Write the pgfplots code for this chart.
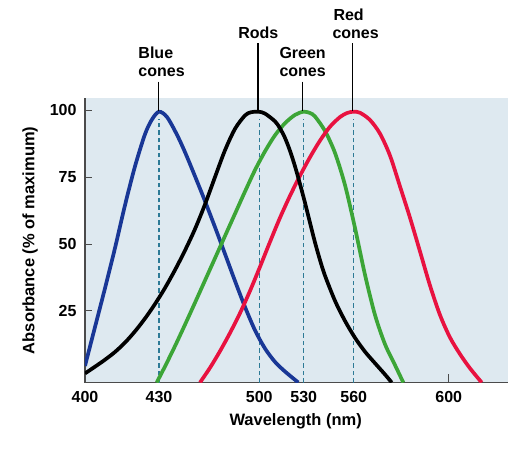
\documentclass[border=0pt]{standalone}
\usepackage{pgfplots}
\pgfplotsset{compat=1.18}
\usepackage{fontspec}
\setmainfont{Liberation Sans}
\definecolor{bgc}{RGB}{222,233,240}
\definecolor{cblue}{RGB}{25,55,150}
\definecolor{cgreen}{RGB}{60,165,55}
\definecolor{cred}{RGB}{232,18,64}
\definecolor{cdash}{RGB}{45,122,150}
\definecolor{caxis}{RGB}{75,75,75}
\begin{document}
\begin{tikzpicture}
\useasboundingbox (-85bp,-68.5bp) rectangle (442bp,382.5bp);
\begin{axis}[
  scale only axis,
  width=423bp, height=284.2bp,
  xmin=0, xmax=423, ymin=-1.7, ymax=104.4,
  axis x line*=bottom, axis y line*=left,
  axis line style={-, draw=caxis, line width=1.4bp},
  every outer x axis line/.append style={-},
  every outer y axis line/.append style={-},
  axis background/.style={fill=bgc},
  xtick={0,74,174.3,218.7,268.7,363.7},
  xticklabels={400,430,500,530,560,600},
  xtick style={draw=none},
  ytick={25,50,75,100},
  ytick style={draw=caxis, line width=1bp},
  tick align=inside,
  major tick length=7bp,
  /pgf/number format/assume math mode=true,
  tick label style={font=\fontsize{16bp}{18bp}\selectfont\bfseries},
  xticklabel style={anchor=center, inner sep=0pt, yshift=-14.8bp},
  yticklabel style={anchor=east, inner sep=0pt, xshift=-8.3bp},
  xlabel={Wavelength (nm)},
  ylabel={Absorbance (\% of maximum)},
  label style={font=\fontsize{16.5bp}{18bp}\selectfont\bfseries},
  xlabel style={at={(axis description cs:0.498,-0.138)}, anchor=center},
  ylabel style={at={(axis description cs:-0.13,0.5)}, anchor=center},
  every axis plot/.append style={line width=3.7bp},
  after end axis/.code={
    \draw[black, line width=1.2bp] (axis cs:73.5,110.6) -- (axis cs:73.5,99.8);
    \draw[black, line width=1.2bp] (axis cs:173,125) -- (axis cs:173,99.8);
    \draw[black, line width=1.2bp] (axis cs:217.7,110.6) -- (axis cs:217.7,99.8);
    \draw[black, line width=1.2bp] (axis cs:267.5,125) -- (axis cs:267.5,99.8);
    \begingroup
    \fontsize{16bp}{18bp}\selectfont\bfseries
    \node[anchor=base west, inner sep=0pt] at (axis cs:53.3,119.3) {Blue};
    \node[anchor=base west, inner sep=0pt] at (axis cs:53.3,112.7) {cones};
    \node[anchor=base, inner sep=0pt] at (axis cs:173.3,126.8) {Rods};
    \node[anchor=base west, inner sep=0pt] at (axis cs:194.3,119.3) {Green};
    \node[anchor=base west, inner sep=0pt] at (axis cs:194.3,112.7) {cones};
    \node[anchor=base west, inner sep=0pt] at (axis cs:248.3,133.6) {Red};
    \node[anchor=base west, inner sep=0pt] at (axis cs:247.3,126.8) {cones};
    \endgroup
  },
]
% drop lines
\addplot[cdash, line width=1.3bp, dash pattern=on 4.5bp off 3bp] coordinates {(74,-1.7) (74,96.5)};
\addplot[cdash, line width=1.3bp, dash pattern=on 4.5bp off 3bp] coordinates {(174.3,-1.7) (174.3,96.5)};
\addplot[cdash, line width=1.3bp, dash pattern=on 4.5bp off 3bp] coordinates {(218.7,-1.7) (218.7,96.5)};
\addplot[cdash, line width=1.3bp, dash pattern=on 4.5bp off 3bp] coordinates {(268.7,-1.7) (268.7,96.5)};
% tick at 600
\addplot[caxis, line width=1bp] coordinates {(363.7,-1.7) (363.7,1.3)};
% Blue cones
\addplot[cblue, smooth] coordinates {
(0,4.5) (10,19) (20,33.5) (30,48.5) (40,64.5) (50,79) (60,91) (67,96.5) (74,99.4) (82,97.4) (91.7,91) (100,84.3) (110,75.3) (120,66) (130,56.3) (140,46.3) (150,36.2) (160,26.5) (170,17.8) (180,11) (190,6) (200,2.4) (213.3,-1.7)};
% Green cones
\addplot[cgreen, smooth] coordinates {
(71.7,-1.7) (80,4.3) (90,11.9) (100,19.9) (110,28.1) (120,36.4) (130,44.7) (140,53) (150,61.3) (160,69.6) (170,77.6) (180,84.6) (190,90.6) (200,95.1) (210,98.2) (218.5,99.4) (225,98.9) (230,97.6) (240,92.2) (250,84) (260,72) (270,56) (280,38.5) (290,23.5) (300,12.6) (310,4.8) (318.3,-1.7)};
% Red cones
\addplot[cred, smooth] coordinates {
(115,-1.7) (125,3.8) (135,10) (145,16.8) (155,24.2) (165,32.5) (175,41.5) (185,50.8) (195,59.8) (205,68) (215,75.5) (225,82.4) (235,88.6) (245,93.8) (255,97.4) (262,98.9) (268.5,99.4) (275,99) (285,96.3) (295,91.2) (305,83) (315,71.5) (325,59.8) (335,47.2) (345,34.5) (355,23.5) (365,15.1) (375,8.9) (385,3.6) (396.7,-1.7)};
% Rods
\addplot[black, smooth] coordinates {
(0,1.7) (10,4.2) (20,6.8) (30,9.7) (40,13.2) (50,17.4) (60,22.2) (70,27.6) (80,33.6) (90,40.3) (100,47.6) (110,55.6) (120,64.8) (130,75) (140,85) (150,93) (160,98) (166,99.2) (173.5,99.4) (180,98.7) (190,95.8) (195,93.2) (200,89.6) (205,84.8) (210,79) (215,72.4) (220,65.4) (225,57.9) (230,50.6) (235,44) (240,38.2) (250,28.8) (260,21.3) (270,15) (280,9.8) (290,5.5) (300,1.3) (306.7,-1.7)};
\end{axis}
\end{tikzpicture}
\end{document}
